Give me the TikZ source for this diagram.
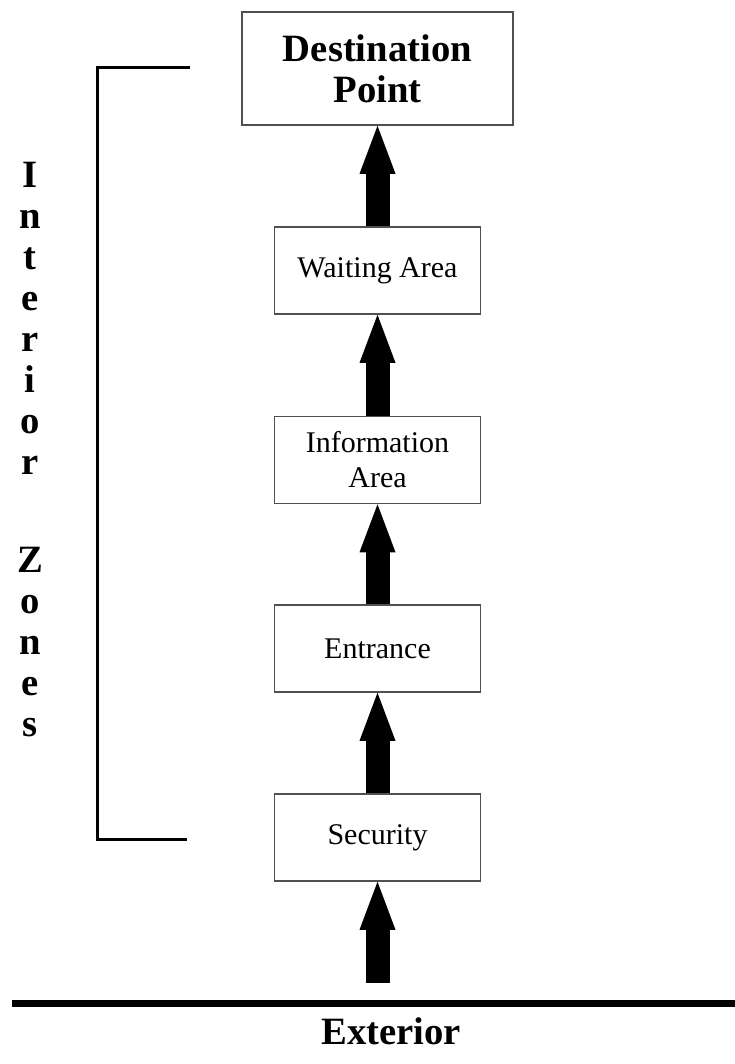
\documentclass[tikz,border=0pt]{standalone}
\usepackage{fontspec}
\setmainfont{Liberation Serif}
\usepackage{tikz}
\usetikzlibrary{arrows.meta,positioning}
\definecolor{boxgray}{HTML}{505050}
\newcommand{\boxfont}{\fontsize{22.5}{26.25}\selectfont}
\newcommand{\bigfont}{\fontsize{29}{30.75}\selectfont\bfseries}

\begin{document}
\begin{tikzpicture}[x=0.75pt,y=0.75pt]
  \path[use as bounding box] (0,0) rectangle (735,1064);
  \tikzset{
    zone/.style={draw=boxgray,fill=white,line width=1.2pt,align=center,font=\boxfont,minimum width=154.5pt,minimum height=65.25pt,inner sep=0pt},
    goal/.style={zone,font=\bigfont,minimum width=203.25pt,minimum height=84.75pt},
    flow/.style={line width=18pt,-{Triangle[length=36pt,width=27pt,line width=0pt]}},
    bracket/.style={line width=2.25pt},
    bigtext/.style={font=\bigfont,align=center,inner sep=0pt}
  }
  \node[goal] (dest) at (377.5,995.5) {Destination\\Point};
  \node[zone] (wait) at (377.5,793.5) {Waiting Area};
  \node[zone] (info) at (377.5,604) {Information\\Area};
  \node[zone] (entr) at (377.5,415.5) {Entrance};
  \node[zone] (secu) at (377.5,226.5) {Security};
  \coordinate (base) at (377.5,81);

  \node[bigtext,anchor=north] (side) at (30,902.5) {I\\n\\t\\e\\r\\i\\o\\r\\[42.75pt]Z\\o\\n\\e\\s};
  \node[bigtext,anchor=base] (ext) at (391,19) {Exterior};

  \draw[flow] (base) -- (secu);
  \draw[flow] (secu) -- (entr);
  \draw[flow] (entr) -- (info);
  \draw[flow] (info) -- (wait);
  \draw[flow] (wait) -- (dest);

  \draw[bracket] (190,996) -- (97,996) -- (97,224) -- (187,224);
  \draw[line width=5.25pt] (12,60.5) -- (735,60.5);
\end{tikzpicture}
\end{document}
